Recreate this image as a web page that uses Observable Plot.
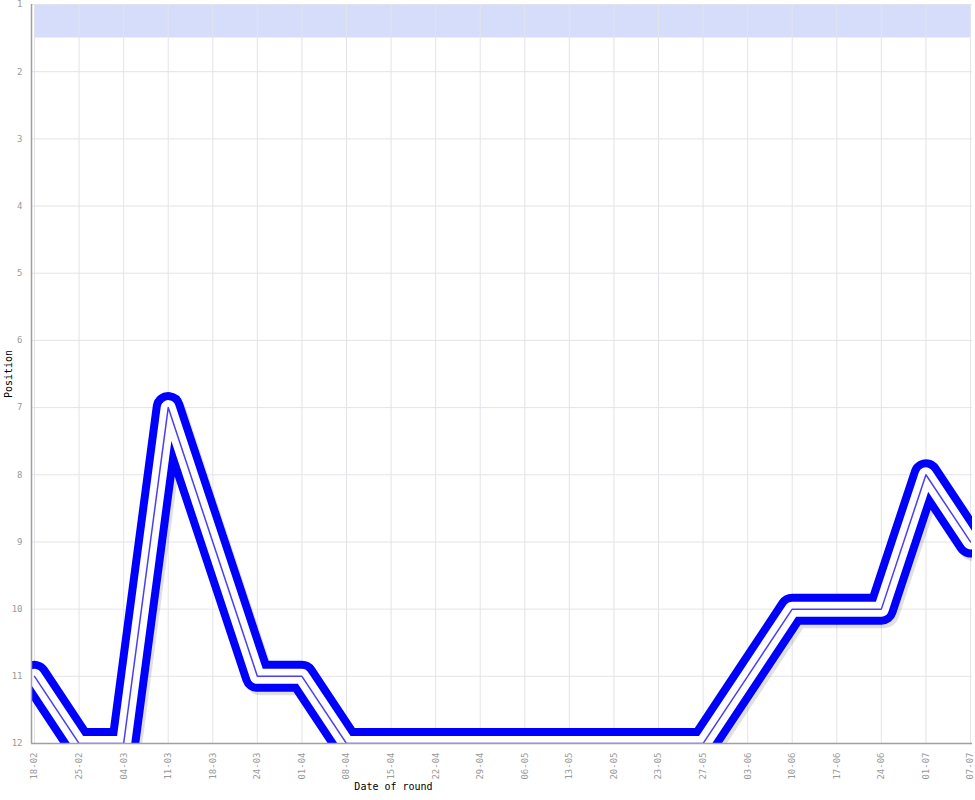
<!DOCTYPE html>
<html>
<head>
<meta charset="utf-8">
<script src="https://cdn.jsdelivr.net/npm/d3@7"></script>
<script src="https://cdn.jsdelivr.net/npm/@observablehq/plot@0.6"></script>
<style>
  html, body { margin: 0; padding: 0; background: #fff; }
</style>
</head>
<body>
<div id="chart"></div>
<script>
const rounds = ["18-02","25-02","04-03","11-03","18-03","24-03","01-04","08-04","15-04","22-04","29-04","06-05","13-05","20-05","23-05","27-05","03-06","10-06","17-06","24-06","01-07","07-07"];
const positions = [11,12,12,7,9,11,11,12,12,12,12,12,12,12,12,12,11,10,10,10,8,9];
const positionTicks = [1,2,3,4,5,6,7,8,9,10,11,12];
const topBand = [1, 1.5];

const data = rounds.map((r, i) => ({round: r, pos: positions[i]}));

const chart = Plot.plot({
  width: 975,
  height: 800,
  marginLeft: 31,
  marginRight: 3,
  marginTop: 4,
  marginBottom: 57,
  style: {fontFamily: "DejaVu Sans Mono", fontSize: "9px", background: "#fff"},
  x: {type: "point", domain: rounds, padding: 0, round: false, insetLeft: 3, insetRight: 2},
  y: {domain: [1, 12], reverse: true},
  marks: [
    Plot.areaY(rounds, {x: d => d, y1: topBand[0], y2: topBand[1], fill: "#d6ddfb"}),
    Plot.gridX(rounds, {stroke: "#e3e3ea", strokeOpacity: 1}),
    Plot.gridY(positionTicks, {stroke: "#e3e3ea", strokeOpacity: 1}),
    Plot.axisY(positionTicks, {tickSize: 0, tickPadding: 9, fill: "#999", label: null, tickFormat: d3.format("d")}),
    Plot.axisX(rounds, {tickSize: 0, tickPadding: 9, tickRotate: -90, fill: "#999", label: null}),
    Plot.line(data, {x: "round", y: "pos", stroke: "#000", strokeOpacity: 0.12, strokeWidth: 30, dx: 3, dy: 4, strokeLinejoin: "round", strokeLinecap: "round", clip: true}),
    Plot.line(data, {x: "round", y: "pos", stroke: "#0000ff", strokeWidth: 31, strokeLinejoin: "round", strokeLinecap: "round", clip: true}),
    Plot.line(data, {x: "round", y: "pos", stroke: "#ffffff", strokeWidth: 15, strokeLinejoin: "round", strokeLinecap: "round", clip: true}),
    Plot.line(data, {x: "round", y: "pos", stroke: "#4b3ff2", strokeWidth: 1.5, clip: true}),
    Plot.ruleY([12], {stroke: "#a0a0a0", strokeWidth: 1.5}),
    Plot.ruleX([rounds[0]], {dx: -3, stroke: "#a0a0a0", strokeWidth: 1.5}),
    Plot.text(["Position"], {frameAnchor: "left", dx: -23, rotate: -90, textAnchor: "middle", fill: "#000", fontSize: 10}),
    Plot.text(["Date of round"], {frameAnchor: "bottom-left", dx: 362, dy: 46, textAnchor: "middle", fill: "#000", fontSize: 10})
  ]
});
document.getElementById("chart").appendChild(chart);
</script>
</body>
</html>
